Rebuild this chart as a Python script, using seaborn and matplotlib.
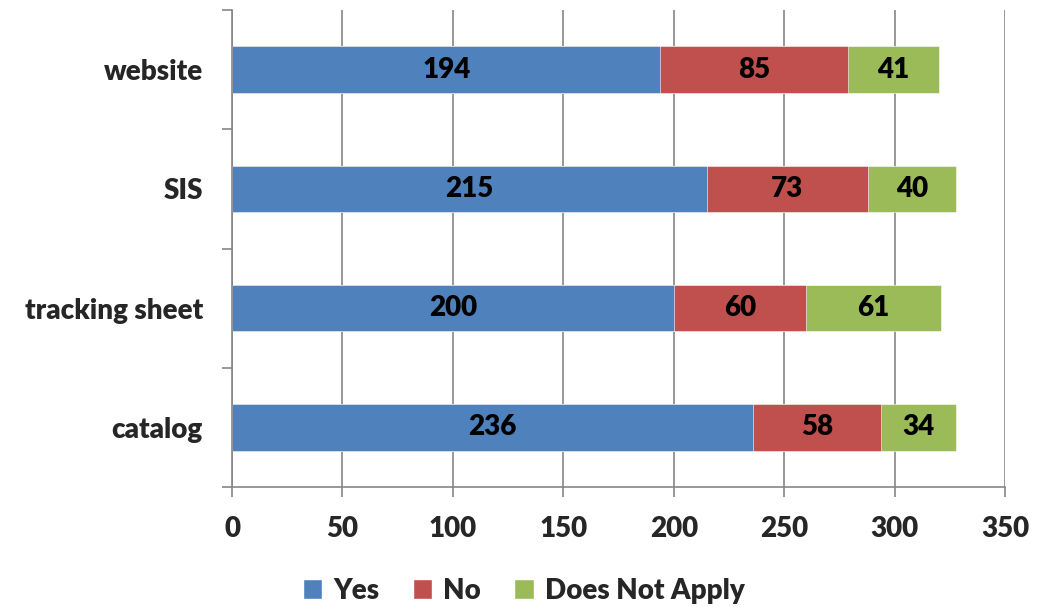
import pandas as pd
import numpy as np
import matplotlib.pyplot as plt
import seaborn as sns
from matplotlib.patches import Patch

# 데이터
categories = ['website', 'SIS', 'tracking sheet', 'catalog']
yes_vals = [194, 215, 200, 236]
no_vals = [85, 73, 60, 58]
na_vals = [41, 40, 61, 34]

series_names = ['Yes', 'No', 'Does Not Apply']
colors = ['#4F81BD', '#C0504D', '#9BBB59']

df = pd.DataFrame({'category': categories, 'Yes': yes_vals, 'No': no_vals,
                   'Does Not Apply': na_vals})
df['cum_no'] = df['Yes'] + df['No']
df['cum_na'] = df['cum_no'] + df['Does Not Apply']

sns.set_style('white')
plt.rcParams['font.family'] = ['Lato', 'DejaVu Sans']
plt.rcParams['font.weight'] = 'heavy'

fs = 20
fig = plt.figure(figsize=(10.47, 6.07), dpi=100)
ax = fig.add_axes([0.2216, 0.1977, 0.7383, 0.7858])

# 누적 막대 (뒤에서부터 겹쳐 그림)
bar_w = 0.39
sns.barplot(data=df, y='category', x='cum_na', color=colors[2], width=bar_w,
            orient='h', ax=ax, saturation=1, edgecolor='white', linewidth=0.4)
sns.barplot(data=df, y='category', x='cum_no', color=colors[1], width=bar_w,
            orient='h', ax=ax, saturation=1, edgecolor='white', linewidth=0.4)
sns.barplot(data=df, y='category', x='Yes', color=colors[0], width=bar_w,
            orient='h', ax=ax, saturation=1, edgecolor='white', linewidth=0.4)

# 값 라벨
for i, row in df.iterrows():
    starts = [0, row['Yes'], row['cum_no']]
    vals = [row['Yes'], row['No'], row['Does Not Apply']]
    for s, v in zip(starts, vals):
        ax.text(s + v / 2, i, str(v), ha='center', va='center',
                fontsize=fs, fontweight='heavy', color='black')

ax.set_xlim(0, 350)
ax.set_ylim(3.5, -0.5)
ax.set_xticks(np.arange(0, 351, 50))
ax.set_xlabel('')
ax.set_ylabel('')

grid_c = '#868686'
ax.grid(axis='x', color=grid_c, linewidth=1.2)
ax.set_axisbelow(True)
for sp in ['top', 'right']:
    ax.spines[sp].set_visible(False)
for sp in ['left', 'bottom']:
    ax.spines[sp].set_color(grid_c)
    ax.spines[sp].set_linewidth(1.2)

ax.set_yticks(np.arange(-0.5, 3.6, 1), minor=True)
ax.tick_params(axis='y', which='major', left=True, length=0, pad=21, labelsize=fs)
ax.tick_params(axis='y', which='minor', left=True, length=7, width=1.2,
               color=grid_c, direction='out')
ax.tick_params(axis='x', which='major', bottom=True, length=7, width=1.2,
               color=grid_c, direction='out', pad=14, labelsize=fs)
for lbl in ax.get_xticklabels() + ax.get_yticklabels():
    lbl.set_fontweight('heavy')

handles = [Patch(facecolor=c, label=n) for c, n in zip(colors, series_names)]
fig.legend(handles=handles, loc='center', bbox_to_anchor=(0.5, 0.027), ncol=3,
           frameon=False, fontsize=fs, handlelength=0.7, handleheight=0.7,
           handletextpad=0.4, columnspacing=1.2)

fig.savefig('out.png', dpi=100)
